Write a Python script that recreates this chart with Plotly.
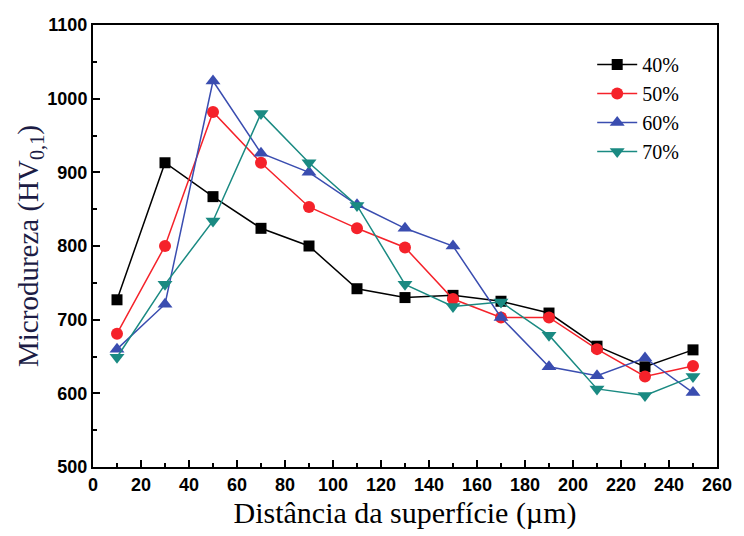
import plotly.graph_objects as go

# Distance from the surface (µm)
distancia = [10, 30, 50, 70, 90, 110, 130, 150, 170, 190, 210, 230, 250]

# Microhardness profiles (HV0,1) for each condition
hv_40 = [727, 913, 867, 824, 800, 742, 730, 733, 725, 709, 664, 636, 659]
hv_50 = [681, 800, 982, 913, 853, 824, 798, 728, 703, 703, 660, 623, 637]
hv_60 = [660, 721, 1024, 926, 900, 856, 824, 800, 703, 636, 624, 648, 601]
hv_70 = [649, 748, 834, 980, 913, 855, 748, 718, 724, 679, 606, 597, 623]

series_names = ["40%", "50%", "60%", "70%"]
series_values = [hv_40, hv_50, hv_60, hv_70]
colors = ["#000000", "#f5222a", "#3a4db0", "#1a8a82"]
symbols = ["square", "circle", "triangle-up", "triangle-down"]
sizes = [11, 12, 13, 13]

fig = go.Figure()
for name, vals, col, sym, sz in zip(series_names, series_values, colors, symbols, sizes):
    fig.add_trace(go.Scatter(
        x=distancia, y=vals, name=name, mode="lines+markers",
        line=dict(color=col, width=1.5),
        marker=dict(symbol=sym, size=sz, color=col),
    ))

axis_common = dict(
    showline=True, linecolor="black", linewidth=2, mirror=True,
    ticks="inside", ticklen=7, tickwidth=1.5, tickcolor="black",
    showgrid=False, zeroline=False,
    tickfont=dict(family="Liberation Sans Narrow, Liberation Sans", size=18,
                  color="black", weight="bold"),
)

fig.update_xaxes(
    range=[0, 260], tickmode="linear", tick0=0, dtick=20,
    minor=dict(ticks="inside", ticklen=4, tickwidth=1.5, tickcolor="black", dtick=10),
    title=dict(text="Distância da superfície (µm)",
               font=dict(family="Liberation Serif", size=30, color="black"),
               standoff=8),
    **axis_common,
)
fig.update_yaxes(
    range=[500, 1100], tickmode="linear", tick0=500, dtick=100,
    minor=dict(ticks="inside", ticklen=4, tickwidth=1.5, tickcolor="black", dtick=50),
    title=dict(text="Microdureza (HV<sub>0,1</sub>)",
               font=dict(family="Liberation Serif", size=29, color="#1c1c45"),
               standoff=0),
    **axis_common,
)

fig.update_layout(
    width=744, height=536,
    margin=dict(l=93, r=17, t=25, b=69),
    paper_bgcolor="white", plot_bgcolor="white",
    showlegend=True,
    legend=dict(
        x=0.8, y=0.955, xanchor="left", yanchor="top",
        bgcolor="rgba(0,0,0,0)", borderwidth=0,
        font=dict(family="Liberation Serif", size=20, color="black"),
        tracegroupgap=0, itemwidth=40,
    ),
)

fig.write_html("out.html")
